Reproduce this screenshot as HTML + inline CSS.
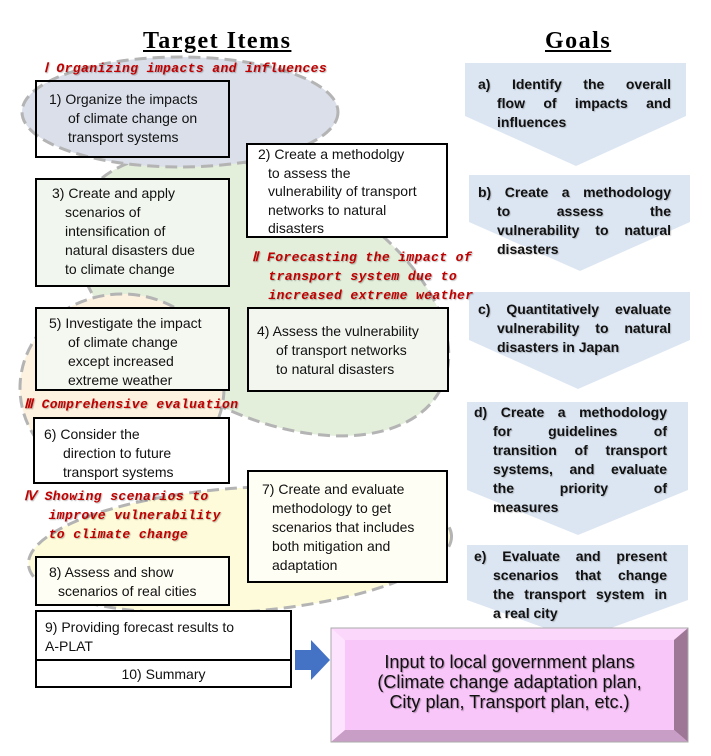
<!DOCTYPE html>
<html><head><meta charset="utf-8"><style>
body{margin:0;width:711px;height:756px;background:#fff;position:relative;overflow:hidden;font-family:"Liberation Sans",sans-serif}
.a{position:absolute}
.box{position:absolute;border:2px solid #000;box-sizing:border-box;font-size:14px;line-height:19px;color:#111}
.box div{white-space:nowrap}
.red{position:absolute;color:#c00000;font-family:"Liberation Mono",monospace;font-style:italic;font-weight:bold;font-size:13px;letter-spacing:0.4px;line-height:19px;white-space:nowrap;text-shadow:1px 1px 1px rgba(0,0,0,.25)}
.g{position:absolute;font-weight:bold;font-size:14px;line-height:19px;color:#111;text-shadow:1px 1px 1px rgba(0,0,0,.2)}
.g div{text-align:justify;text-align-last:justify;width:174px;margin-left:19px}
.g div.f{margin-left:0;width:193px}
.g div.l{text-align-last:left}
.h{position:absolute;font-family:"Liberation Serif",serif;font-weight:bold;font-size:24px;letter-spacing:1.5px;text-decoration:underline;top:28px}
</style></head><body>
<svg class="a" style="left:0;top:0" width="711" height="756">
<g stroke="#b4b4b4" stroke-width="3" stroke-dasharray="12,6">
<ellipse cx="262" cy="295" rx="202" ry="118" transform="rotate(28 262 295)" fill="#e3eedb"/>
<ellipse cx="122" cy="388" rx="102" ry="94" fill="#fdf2df"/>
<ellipse cx="240" cy="550" rx="212" ry="62" transform="rotate(-4 240 550)" fill="#fdfbd9"/>
<ellipse cx="180" cy="112" rx="158" ry="55" fill="#dadfea"/>
</g>
<g fill="#dce6f2">
<polygon points="465,63 686,63 686,116 576,166 465,116"/>
<polygon points="469,175 690,175 690,222 580,271 469,222"/>
<polygon points="469,292 690,292 690,340 578,389 469,340"/>
<polygon points="467,402 688,402 688,490 578,535 467,490"/>
<polygon points="467,545 688,545 688,600 578,640 467,600"/>
</g>
<polygon points="295,650 311,650 311,640 330,660 311,680 311,670 295,670" fill="#4472c4"/>
<g>
<rect x="331" y="628" width="357" height="114" fill="#f9c6f9"/>
<polygon points="331,628 688,628 674,640 345,640" fill="#fbd8fb"/>
<polygon points="331,628 345,640 345,730 331,742" fill="#fde3fd"/>
<polygon points="688,628 688,742 674,730 674,640" fill="#9f7796"/>
<polygon points="331,742 345,730 674,730 688,742" fill="#c99ec6"/>
<rect x="331" y="628" width="357" height="114" fill="none" stroke="#aaa" stroke-width="1"/>
</g>
</svg>
<div class="h" style="left:143px">Target Items</div>
<div class="h" style="left:545px">Goals</div>
<div class="red" style="left:44px;top:59px">Ⅰ Organizing impacts and influences</div>
<div class="red" style="left:252px;top:248px">Ⅱ Forecasting the impact of<br>&nbsp;&nbsp;transport system due to<br>&nbsp;&nbsp;increased extreme weather</div>
<div class="red" style="left:24px;top:395px">Ⅲ Comprehensive evaluation</div>
<div class="red" style="left:24px;top:487px">Ⅳ Showing scenarios to<br>&nbsp;&nbsp;&nbsp;improve vulnerability<br>&nbsp;&nbsp;&nbsp;to climate change</div>

<div class="box" style="left:35px;top:80px;width:195px;height:78px;padding:8px 0 0 12px"><div>1) Organize the impacts</div><div style="padding-left:19px">of climate change on</div><div style="padding-left:19px">transport systems</div></div>
<div class="box" style="left:246px;top:143px;width:202px;height:95px;background:#fff;padding:0 0 0 10px;line-height:18.5px"><div>2) Create a methodolgy</div><div style="padding-left:10px">to assess the</div><div style="padding-left:10px">vulnerability of transport</div><div style="padding-left:10px">networks to natural</div><div style="padding-left:10px">disasters</div></div>
<div class="box" style="left:35px;top:178px;width:195px;height:109px;background:#f1f6ee;padding:4px 0 0 15px"><div>3) Create and apply</div><div style="padding-left:13px">scenarios of</div><div style="padding-left:13px">intensification of</div><div style="padding-left:13px">natural disasters due</div><div style="padding-left:13px">to climate change</div></div>
<div class="box" style="left:35px;top:307px;width:195px;height:84px;background:#f5f7f1;padding:5px 0 0 12px"><div>5) Investigate the impact</div><div style="padding-left:19px">of climate change</div><div style="padding-left:19px">except increased</div><div style="padding-left:19px">extreme weather</div></div>
<div class="box" style="left:247px;top:307px;width:202px;height:85px;background:#f2f6ef;padding:13px 0 0 8px"><div>4) Assess the vulnerability</div><div style="padding-left:19px">of transport networks</div><div style="padding-left:19px">to natural disasters</div></div>
<div class="box" style="left:33px;top:417px;width:197px;height:67px;background:#fff;padding:6px 0 0 9px"><div>6) Consider the</div><div style="padding-left:19px">direction to future</div><div style="padding-left:19px">transport systems</div></div>
<div class="box" style="left:247px;top:470px;width:201px;height:113px;background:#fffef4;padding:8px 0 0 13px"><div>7) Create and evaluate</div><div style="padding-left:10px">methodology to get</div><div style="padding-left:10px">scenarios that includes</div><div style="padding-left:10px">both mitigation and</div><div style="padding-left:10px">adaptation</div></div>
<div class="box" style="left:35px;top:556px;width:195px;height:50px;background:#fffef4;padding:5px 0 0 12px"><div>8) Assess and show</div><div style="padding-left:9px">scenarios of real cities</div></div>
<div class="box" style="left:35px;top:610px;width:257px;height:51px;background:#fff;padding:6px 0 0 8px"><div>9) Providing forecast results to</div><div>A-PLAT</div></div>
<div class="box" style="left:35px;top:659px;width:257px;height:29px;background:#fff;text-align:center;padding-top:4px"><div>10) Summary</div></div>

<div class="g" style="left:478px;top:75px"><div class="f">a) Identify the overall</div><div>flow of impacts and</div><div class="l">influences</div></div>
<div class="g" style="left:478px;top:183px"><div class="f">b) Create a methodology</div><div>to assess the</div><div>vulnerability to natural</div><div class="l">disasters</div></div>
<div class="g" style="left:478px;top:300px"><div class="f">c) Quantitatively evaluate</div><div>vulnerability to natural</div><div class="l">disasters in Japan</div></div>
<div class="g" style="left:474px;top:403px"><div class="f">d) Create a methodology</div><div>for guidelines of</div><div>transition of transport</div><div>systems, and evaluate</div><div>the priority of</div><div class="l">measures</div></div>
<div class="g" style="left:474px;top:547px"><div class="f">e) Evaluate and present</div><div>scenarios that change</div><div>the transport system in</div><div class="l">a real city</div></div>

<div class="a" style="left:345px;top:652px;width:329px;text-align:center;font-size:18px;line-height:20px;color:#111;text-shadow:1px 1px 1px rgba(0,0,0,.3)">Input to local government plans<br>(Climate change adaptation plan,<br>City plan, Transport plan, etc.)</div>
</body></html>
